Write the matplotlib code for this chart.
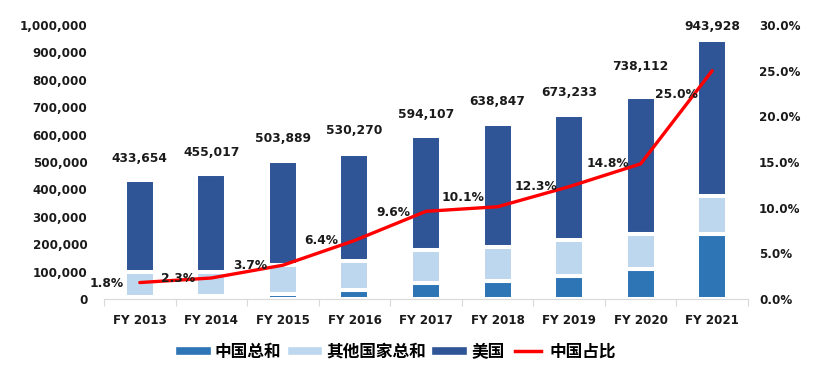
import matplotlib
matplotlib.use("Agg")
import matplotlib.pyplot as plt
from matplotlib.lines import Line2D
from matplotlib.ticker import FuncFormatter, FixedLocator
import numpy as np

# ---- data ----
years = ["FY 2013", "FY 2014", "FY 2015", "FY 2016", "FY 2017",
         "FY 2018", "FY 2019", "FY 2020", "FY 2021"]
totals = [433654, 455017, 503889, 530270, 594107, 638847, 673233, 738112, 943928]
china_share = [1.8, 2.3, 3.7, 6.4, 9.6, 10.1, 12.3, 14.8, 25.0]
china_total = [7806, 10465, 18644, 33937, 57034, 64524, 82808, 109241, 235982]
others_total = [90700, 88000, 105400, 104800, 121800, 126400, 133600, 127300, 140000]
usa = [t - c - o for t, c, o in zip(totals, china_total, others_total)]

# ---- style ----
C_CHINA = "#2E75B6"
C_OTHER = "#BDD7EE"
C_USA = "#2F5597"
C_RED = "#FF0000"
TXT = "#1a1a1a"
FS = 8.6
FS_LBL = 8.8
# label offsets in pixels (style only)
pct_offsets = [(-33, -1), (-33, -1), (-33, 0), (-33, 0), (-33, -1),
               (-35, 9), (-33, 0), (-33, 0), (-36, -24)]
tot_offsets = [22, 22, 22, 23, 22, 22, 22, 30, 14]

plt.rcParams["font.family"] = ["DejaVu Sans"]
plt.rcParams["font.weight"] = "bold"

fig = plt.figure(figsize=(8.17, 3.89), dpi=100)
ax = fig.add_axes([104 / 817, 1 - 299 / 389, (748 - 104) / 817, (299 - 25) / 389])
ax2 = ax.twinx()

x = np.arange(len(years))
w = 0.42
lw = 2.9
ax.bar(x, china_total, w, color=C_CHINA, edgecolor="white", linewidth=lw, zorder=2)
b1 = np.array(china_total)
ax.bar(x, others_total, w, bottom=b1, color=C_OTHER, edgecolor="white", linewidth=lw, zorder=2)
b2 = b1 + np.array(others_total)
ax.bar(x, usa, w, bottom=b2, color=C_USA, edgecolor="white", linewidth=lw, zorder=2)

for xi, t, off in zip(x, totals, tot_offsets):
    ax.annotate(f"{t:,}", (xi, t), xytext=(0, off), textcoords="offset pixels",
                ha="center", va="center", fontsize=FS_LBL, fontweight="bold", color=TXT)

ax.set_xlim(-0.5, len(years) - 0.5)
ax.set_ylim(0, 1000000)
ax.set_yticks(np.arange(0, 1000001, 100000))
ax.yaxis.set_major_formatter(FuncFormatter(lambda v, p: f"{int(v):,}"))
ax.set_xticks(x)
ax.set_xticklabels(years)
ax.xaxis.set_minor_locator(FixedLocator(np.arange(-0.5, len(years), 1.0)))
ax.tick_params(axis="x", which="major", length=0, pad=11, labelsize=FS, labelcolor=TXT)
ax.tick_params(axis="x", which="minor", length=5, color="#D9D9D9", width=0.8)
ax.tick_params(axis="y", length=0, pad=12, labelsize=FS, labelcolor=TXT)
for s in ["top", "right", "left"]:
    ax.spines[s].set_visible(False)
ax.spines["bottom"].set_color("#D9D9D9")
ax.spines["bottom"].set_linewidth(0.8)

ax2.plot(x, china_share, color=C_RED, lw=2.4, solid_capstyle="round", zorder=3)
ax2.set_ylim(0, 30)
ax2.set_yticks(np.arange(0, 30.1, 5))
ax2.yaxis.set_major_formatter(FuncFormatter(lambda v, p: f"{v:.1f}%"))
ax2.tick_params(axis="y", length=0, pad=8, labelsize=FS, labelcolor=TXT)
for s in ax2.spines.values():
    s.set_visible(False)
for xi, v, (dx, dy) in zip(x, china_share, pct_offsets):
    ax2.annotate(f"{v:.1f}%", (xi, v), xytext=(dx, dy), textcoords="offset pixels",
                 ha="center", va="center", fontsize=FS_LBL, fontweight="bold", color=TXT)

for t in ax.get_xticklabels() + ax.get_yticklabels() + ax2.get_yticklabels():
    t.set_fontweight("bold")

handles = [Line2D([], [], color=C_CHINA, lw=5.5),
           Line2D([], [], color=C_OTHER, lw=5.5),
           Line2D([], [], color=C_USA, lw=5.5),
           Line2D([], [], color=C_RED, lw=2.5)]
labels = ["中国总和", "其他国家总和", "美国", "中国占比"]
fig.legend(handles, labels, loc="center", bbox_to_anchor=(398 / 817, 1 - 352 / 389),
           ncol=4, frameon=False, handlelength=1.6, handletextpad=0.5, columnspacing=0.6,
           prop={"family": ["Noto Sans CJK SC", "DejaVu Sans"], "weight": "bold", "size": 12})

fig.savefig("out.png", dpi=100)
